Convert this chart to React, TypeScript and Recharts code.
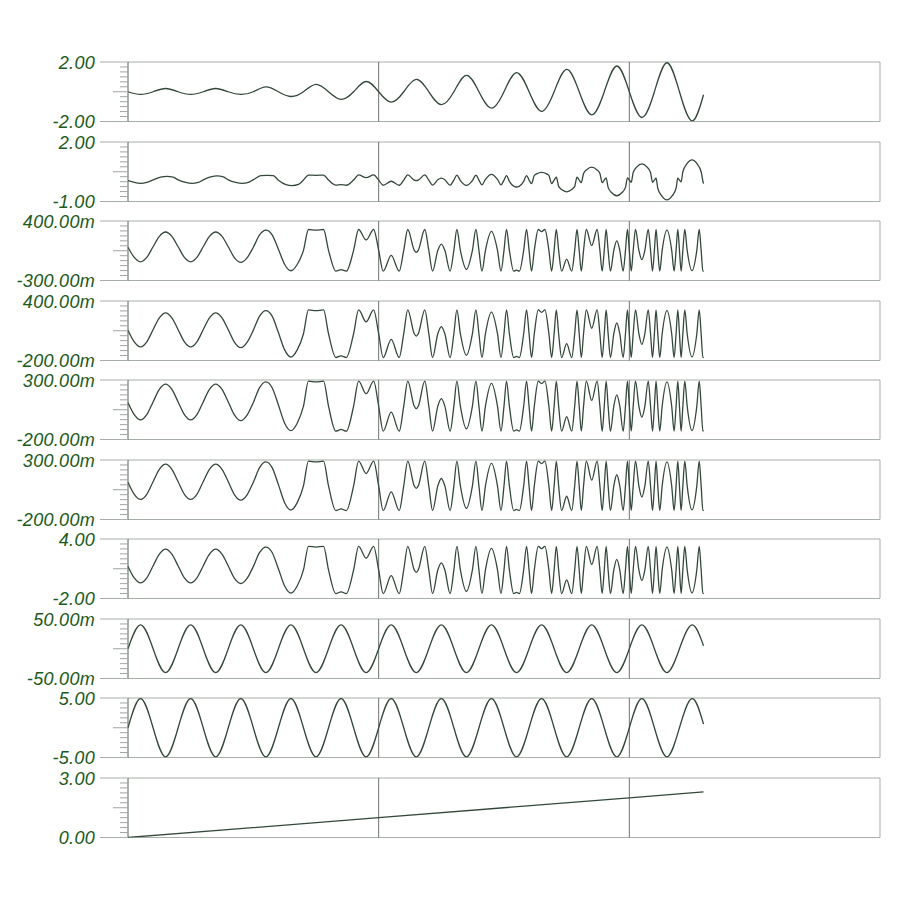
import React from 'react';
import { LineChart, Line, XAxis, YAxis, ReferenceLine } from 'recharts';

// ---------- axis texts and ranges (top panel first) ----------
const topLabels = ['2.00', '2.00', '400.00m', '400.00m', '300.00m', '300.00m', '4.00', '50.00m', '5.00', '3.00'];
const bottomLabels = ['-2.00', '-1.00', '-300.00m', '-200.00m', '-200.00m', '-200.00m', '-2.00', '-50.00m', '-5.00', '0.00'];
const axisMax = [2, 2, 0.4, 0.4, 0.3, 0.3, 4, 0.05, 5, 3];
const axisMin = [-2, -1, -0.3, -0.2, -0.2, -0.2, -2, -0.05, -5, 0];
const timeGrid = [1, 2];
const timeMax = 3;

// ---------- series values [time, value] ----------
const wave1: [number, number][] = [
  [0, 0], [0.05, -0.18], [0.1, 0], [0.15, 0.22], [0.2, 0], [0.25, -0.18], [0.3, 0], [0.35, 0.22],
  [0.4, 0], [0.45, -0.18], [0.5, 0], [0.55, 0.33], [0.6, 0], [0.65, -0.32], [0.7, 0], [0.75, 0.5],
  [0.8, 0], [0.85, -0.51], [0.9, 0], [0.95, 0.69], [1.0, 0], [1.05, -0.7], [1.1, 0], [1.15, 0.83],
  [1.2, 0], [1.25, -0.87], [1.3, 0], [1.35, 1.1], [1.4, 0], [1.45, -1.1], [1.5, 0], [1.55, 1.29],
  [1.6, 0], [1.65, -1.32], [1.7, 0], [1.75, 1.5], [1.8, 0], [1.85, -1.55], [1.9, 0], [1.95, 1.73],
  [2.0, 0], [2.05, -1.73], [2.1, 0], [2.15, 1.95], [2.2, 0], [2.25, -1.96], [2.296, -0.2],
];

const wave2: [number, number][] = [
  [0, 0.05], [0.025, -0.04], [0.05, -0.085], [0.075, -0.04], [0.1, 0.09], [0.13, 0.23], [0.155, 0.27],
  [0.18, 0.23], [0.2, 0.09], [0.23, -0.04], [0.255, -0.085], [0.28, -0.04], [0.3, 0.09], [0.33, 0.24],
  [0.355, 0.29], [0.38, 0.24], [0.4, 0.09], [0.43, -0.04], [0.455, -0.085], [0.48, -0.04], [0.5, 0.1],
  [0.53, 0.3], [0.555, 0.32], [0.58, 0.3], [0.6, 0.07], [0.63, -0.15], [0.655, -0.2], [0.68, -0.14],
  [0.7, 0.08], [0.72, 0.33], [0.75, 0.32], [0.78, 0.33], [0.8, 0.08], [0.829, -0.17], [0.85, -0.15],
  [0.871, -0.18], [0.9, 0.08], [0.92, 0.34], [0.95, 0.2], [0.98, 0.34], [1.0, 0.08], [1.018, -0.18],
  [1.05, 0.02], [1.082, -0.18], [1.1, 0.08],
  [1.116, 0.34], [1.142, 0.08], [1.15, 0.054], [1.158, 0.08], [1.184, 0.34], [1.2, 0.08],
  [1.215, -0.172], [1.236, 0.096], [1.25, 0.175], [1.264, 0.096], [1.285, -0.172], [1.3, 0.08],
  [1.312, 0.328], [1.326, 0.056], [1.35, -0.19], [1.374, 0.056], [1.388, 0.328], [1.4, 0.08],
  [1.412, -0.16], [1.426, 0.12], [1.45, 0.37], [1.474, 0.12], [1.488, -0.16], [1.5, 0.08],
  [1.51, 0.308], [1.5215, 0.016], [1.54, -0.24], [1.55, -0.27], [1.56, -0.24], [1.5785, 0.016],
  [1.59, 0.308], [1.6, 0.08],
  [1.6099, -0.101], [1.6209, 0.318], [1.63, 0.395], [1.65, 0.47], [1.67, 0.395], [1.6791, 0.318],
  [1.6901, -0.101], [1.7, 0.08],
  [1.7087, 0.222], [1.718, -0.237], [1.73, -0.397], [1.75, -0.51], [1.77, -0.397], [1.782, -0.237],
  [1.7913, 0.222], [1.8, 0.08],
  [1.8084, -0.051], [1.8174, 0.417], [1.83, 0.606], [1.85, 0.73], [1.87, 0.606], [1.8826, 0.417],
  [1.8916, -0.051], [1.9, 0.08],
  [1.9075, 0.196], [1.9154, -0.287], [1.93, -0.559], [1.95, -0.71], [1.97, -0.559], [1.9846, -0.287],
  [1.9925, 0.196], [2.0, 0.08],
  [2.0075, -0.029], [2.0154, 0.461], [2.03, 0.743], [2.05, 0.9], [2.07, 0.743], [2.0846, 0.461],
  [2.0925, -0.029], [2.1, 0.08],
  [2.1066, 0.174], [2.1135, -0.333], [2.13, -0.729], [2.15, -0.92], [2.17, -0.729], [2.1865, -0.333],
  [2.1934, 0.174], [2.2, 0.08],
  [2.2066, -0.01], [2.2135, 0.499], [2.23, 0.905], [2.25, 1.1], [2.27, 0.905], [2.2865, 0.499],
  [2.2934, 0.03], [2.296, -0.1],
];

// clipped waveform seen in panels 3-7: +1 = its flat top, -1 = its flat bottom
const clipShape: [number, number][] = [
  [0, 0.15], [0.025, -0.34], [0.05, -0.55], [0.075, -0.34], [0.1, 0.17], [0.125, 0.67], [0.15, 0.88],
  [0.175, 0.67], [0.2, 0.17], [0.225, -0.34], [0.25, -0.55], [0.275, -0.34], [0.3, 0.17], [0.325, 0.67],
  [0.35, 0.88], [0.375, 0.67], [0.4, 0.17], [0.425, -0.36], [0.45, -0.58], [0.475, -0.36], [0.5, 0.15],
  [0.525, 0.74], [0.55, 0.97], [0.575, 0.74], [0.6, 0.05], [0.625, -0.68], [0.65, -0.98], [0.675, -0.68],
  [0.7, 0], [0.72, 1], [0.75, 0.97], [0.78, 1], [0.8, 0], [0.829, -1], [0.85, -0.93], [0.871, -1],
  [0.9, 0], [0.92, 1], [0.95, 0.5], [0.98, 1], [1.0, 0], [1.018, -1], [1.05, -0.24], [1.082, -1],
  [1.1, 0], [1.116, 1], [1.142, 0], [1.15, -0.1], [1.158, 0], [1.184, 1], [1.2, 0],
  [1.215, -1], [1.236, 0], [1.25, 0.3], [1.264, 0], [1.285, -1], [1.3, 0],
  [1.312, 1], [1.326, 0], [1.35, -0.91], [1.374, 0], [1.388, 1], [1.4, 0],
  [1.412, -1], [1.426, 0], [1.45, 0.91], [1.474, 0], [1.488, -1], [1.5, 0],
  [1.51, 1], [1.5215, 0], [1.5387, -1], [1.55, -0.95], [1.5613, -1], [1.5785, 0], [1.59, 1], [1.6, 0],
  [1.6099, -1], [1.6209, 0], [1.6368, 1], [1.65, 0.9], [1.6632, 1], [1.6791, 0], [1.6901, -1], [1.7, 0],
  [1.7087, 1], [1.718, 0], [1.7298, -1], [1.75, -0.42], [1.7702, -1], [1.782, 0], [1.7913, 1], [1.8, 0],
  [1.8084, -1], [1.8174, 0], [1.8284, 1], [1.85, 0.23], [1.8716, 1], [1.8826, 0], [1.8916, -1], [1.9, 0],
  [1.9075, 1], [1.9154, 0], [1.9246, -1], [1.9381, 0], [1.95, 0.45], [1.9619, 0], [1.9754, -1],
  [1.9846, 0], [1.9925, 1], [2.0, 0],
  [2.0075, -1], [2.0154, 0], [2.0246, 1], [2.0381, 0], [2.05, -0.45], [2.0619, 0], [2.0754, 1],
  [2.0846, 0], [2.0925, -1], [2.1, 0],
  [2.1066, 1], [2.1135, 0], [2.1213, -1], [2.131, 0], [2.15, 0.97], [2.169, 0], [2.1787, -1],
  [2.1865, 0], [2.1934, 1], [2.2, 0],
  [2.2066, -1], [2.2135, 0], [2.2212, 1], [2.2308, 0], [2.25, -0.975], [2.2692, 0], [2.2788, 1],
  [2.2865, 0], [2.2934, -1], [2.296, -0.97],
];
// [flat bottom, flat top] read for panels 3..7
const clipLevels: [number, number][] = [
  [-0.19, 0.3], [-0.17, 0.31], [-0.13, 0.29], [-0.125, 0.29], [-1.5, 3.26],
];

const wave8: [number, number][] = [
  [0, 0], [0.05, 0.04], [0.1, 0], [0.15, -0.04], [0.2, 0], [0.25, 0.04], [0.3, 0], [0.35, -0.04],
  [0.4, 0], [0.45, 0.04], [0.5, 0], [0.55, -0.04], [0.6, 0], [0.65, 0.04], [0.7, 0], [0.75, -0.04],
  [0.8, 0], [0.85, 0.04], [0.9, 0], [0.95, -0.04], [1.0, 0], [1.05, 0.04], [1.1, 0], [1.15, -0.04],
  [1.2, 0], [1.25, 0.04], [1.3, 0], [1.35, -0.04], [1.4, 0], [1.45, 0.04], [1.5, 0], [1.55, -0.04],
  [1.6, 0], [1.65, 0.04], [1.7, 0], [1.75, -0.04], [1.8, 0], [1.85, 0.04], [1.9, 0], [1.95, -0.04],
  [2.0, 0], [2.05, 0.04], [2.1, 0], [2.15, -0.04], [2.2, 0], [2.25, 0.04], [2.296, 0.005],
];

const wave9: [number, number][] = [
  [0, 0], [0.05, 4.9], [0.1, 0], [0.15, -4.9], [0.2, 0], [0.25, 4.9], [0.3, 0], [0.35, -4.9],
  [0.4, 0], [0.45, 4.9], [0.5, 0], [0.55, -4.9], [0.6, 0], [0.65, 4.9], [0.7, 0], [0.75, -4.9],
  [0.8, 0], [0.85, 4.9], [0.9, 0], [0.95, -4.9], [1.0, 0], [1.05, 4.9], [1.1, 0], [1.15, -4.9],
  [1.2, 0], [1.25, 4.9], [1.3, 0], [1.35, -4.9], [1.4, 0], [1.45, 4.9], [1.5, 0], [1.55, -4.9],
  [1.6, 0], [1.65, 4.9], [1.7, 0], [1.75, -4.9], [1.8, 0], [1.85, 4.9], [1.9, 0], [1.95, -4.9],
  [2.0, 0], [2.05, 4.9], [2.1, 0], [2.15, -4.9], [2.2, 0], [2.25, 4.9], [2.296, 0.6],
];

const wave10: [number, number][] = [[0, 0], [1, 1], [2, 2], [2.296, 2.296]];

// ---------- build tables ----------
const toRows = (pts: [number, number][]) => pts.map(([t, v]) => ({ t, v }));
const clipRows = (lv: [number, number]) =>
  clipShape.map(([t, n]) => ({ t, v: lv[0] + ((n + 1) / 2) * (lv[1] - lv[0]) }));

const panels = [
  { rows: toRows(wave1), curve: 'natural' },
  { rows: toRows(wave2), curve: 'monotone' },
  { rows: clipRows(clipLevels[0]), curve: 'monotone' },
  { rows: clipRows(clipLevels[1]), curve: 'monotone' },
  { rows: clipRows(clipLevels[2]), curve: 'monotone' },
  { rows: clipRows(clipLevels[3]), curve: 'monotone' },
  { rows: clipRows(clipLevels[4]), curve: 'monotone' },
  { rows: toRows(wave8), curve: 'natural' },
  { rows: toRows(wave9), curve: 'natural' },
  { rows: toRows(wave10), curve: 'linear' },
];

const FIRST_TOP = 62;
const PITCH = 79.56;
const PLOT_H = 59.5;
const MARGIN_T = 20;
const CHART_H = 100;

const LINE_COLOR = '#33483a';
const LABEL_COLOR = '#1d5a20';
const BORDER = '#a7aea7';
const GRID = '#6f746f';

const makeTick = (i: number) => (props: any) => {
  const { x, y, payload } = props;
  const v = payload.value;
  const span = axisMax[i] - axisMin[i];
  const isTop = Math.abs(v - axisMax[i]) < span * 1e-6;
  const isBottom = Math.abs(v - axisMin[i]) < span * 1e-6;
  const isMid = Math.abs(v - (axisMax[i] + axisMin[i]) / 2) < span * 1e-6;
  const len = isTop || isBottom ? 28 : isMid ? 15 : 8;
  return (
    <g>
      <line x1={x - len} x2={x} y1={y} y2={y} stroke={isTop || isBottom ? BORDER : '#9ea59e'} strokeWidth={1} />
      {(isTop || isBottom) && (
        <text
          x={x - 33}
          y={y + 6.5}
          textAnchor="end"
          fill={LABEL_COLOR}
          fontSize={18}
          fontStyle="italic"
          fontFamily="'Liberation Sans', Arial, sans-serif"
          letterSpacing={0.3}
        >
          {isTop ? topLabels[i] : bottomLabels[i]}
        </text>
      )}
    </g>
  );
};

export default function App() {
  return (
    <div style={{ position: 'absolute', left: 0, top: 0, width: 900, height: 900, background: '#fff' }}>
      {panels.map((p, i) => {
        const ticks = Array.from({ length: 13 }, (_, k) => axisMin[i] + (k * (axisMax[i] - axisMin[i])) / 12);
        return (
          <div
            key={i}
            style={{ position: 'absolute', left: 0, top: FIRST_TOP + PITCH * i - MARGIN_T, width: 900, height: CHART_H }}
          >
            <LineChart
              width={900}
              height={CHART_H}
              data={p.rows}
              margin={{ top: MARGIN_T, right: 20, bottom: CHART_H - MARGIN_T - PLOT_H, left: 0 }}
            >
              <XAxis type="number" dataKey="t" domain={[0, timeMax]} hide />
              <YAxis
                type="number"
                domain={[axisMin[i], axisMax[i]]}
                ticks={ticks}
                interval={0}
                width={128}
                tickSize={0}
                tickMargin={0}
                tickLine={false}
                axisLine={{ stroke: '#556055', strokeWidth: 1 }}
                tick={makeTick(i)}
                allowDataOverflow
              />
              <ReferenceLine y={axisMax[i]} stroke={BORDER} strokeWidth={1} />
              <ReferenceLine y={axisMin[i]} stroke={BORDER} strokeWidth={1} />
              <ReferenceLine x={timeMax} stroke={BORDER} strokeWidth={1} />
              {timeGrid.map((g) => (
                <ReferenceLine key={g} x={g} stroke={GRID} strokeWidth={1} />
              ))}
              <Line
                type={p.curve as any}
                dataKey="v"
                stroke={LINE_COLOR}
                strokeWidth={1.3}
                dot={false}
                isAnimationActive={false}
              />
            </LineChart>
          </div>
        );
      })}
    </div>
  );
}
